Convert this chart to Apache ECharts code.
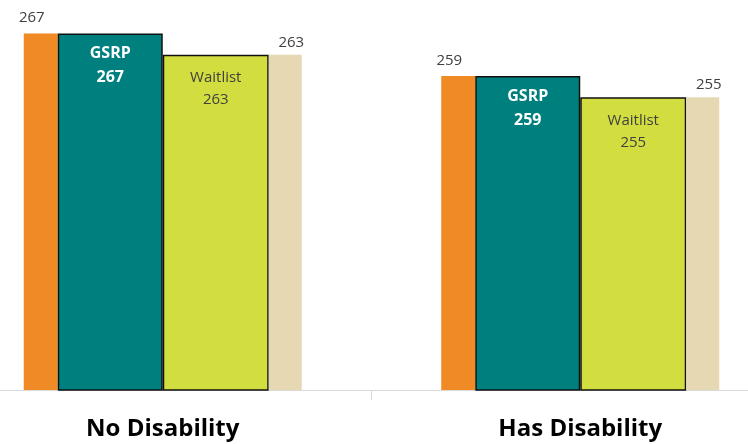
<!DOCTYPE html>
<html>
<head>
<meta charset="utf-8">
<script src="https://cdn.jsdelivr.net/npm/echarts@6/dist/echarts.min.js"></script>
<style>html,body{margin:0;padding:0;background:#fff;overflow:hidden;width:748px;height:444px;}#c{width:835px;height:444px;margin-left:-46px;}</style>
</head>
<body>
<div id="c"></div>
<script>
const categories = ['No Disability', 'Has Disability'];
const seriesNames = ['Left', 'GSRP', 'Waitlist', 'Right'];
const leftValues = [267, 259];
const gsrpValues = [267, 259];
const waitlistValues = [263, 255];
const rightValues = [263, 255];

const chart = echarts.init(document.getElementById('c'), null, {renderer: 'canvas'});
const fontFam = '"Open Sans", "Noto Sans", sans-serif';
chart.setOption({
  animation: false,
  grid: {left: 0, right: 0, top: 17.5, bottom: 54, containLabel: false},
  xAxis: {
    type: 'category',
    data: categories,
    axisLine: {show: true, lineStyle: {color: '#d9d9d9', width: 1}},
    axisTick: {show: true, length: 10, lineStyle: {color: '#d9d9d9'}},
    axisLabel: {color: '#000', fontSize: 24, fontWeight: 'bold', fontFamily: fontFam, margin: 27}
  },
  yAxis: {
    type: 'value', min: 200, max: 270, show: false,
    splitLine: {show: false}
  },
  series: [
    {
      name: seriesNames[0], type: 'bar', data: leftValues, barWidth: 34, barGap: 0,
      itemStyle: {color: '#EF8A25'},
      label: {show: true, position: 'top', distance: 8, offset: [-9, 0], color: '#404040', fontSize: 15, fontFamily: fontFam}
    },
    {
      name: seriesNames[1], type: 'bar', data: gsrpValues, barWidth: 105, barGap: 0,
      itemStyle: {color: '#007F7F', borderColor: '#111', borderWidth: 1.5},
      label: {show: true, position: 'insideTop', distance: 8, color: '#fff', fontSize: 16, fontWeight: 'bold', lineHeight: 24, fontFamily: fontFam,
        formatter: p => p.seriesName + '\n' + p.value}
    },
    {
      name: seriesNames[2], type: 'bar', data: waitlistValues, barWidth: 106, barGap: 0,
      itemStyle: {color: '#D2DE3F', borderColor: '#111', borderWidth: 1.5},
      label: {show: true, position: 'insideTop', distance: 12, color: '#404040', fontSize: 15, lineHeight: 22, fontFamily: fontFam,
        formatter: p => p.seriesName + '\n' + p.value}
    },
    {
      name: seriesNames[3], type: 'bar', data: rightValues, barWidth: 33, barGap: 0,
      itemStyle: {color: '#E6D8B2'},
      label: {show: true, position: 'top', distance: 5, offset: [6, 0], color: '#404040', fontSize: 15, fontFamily: fontFam}
    }
  ]
});
</script>
</body>
</html>
